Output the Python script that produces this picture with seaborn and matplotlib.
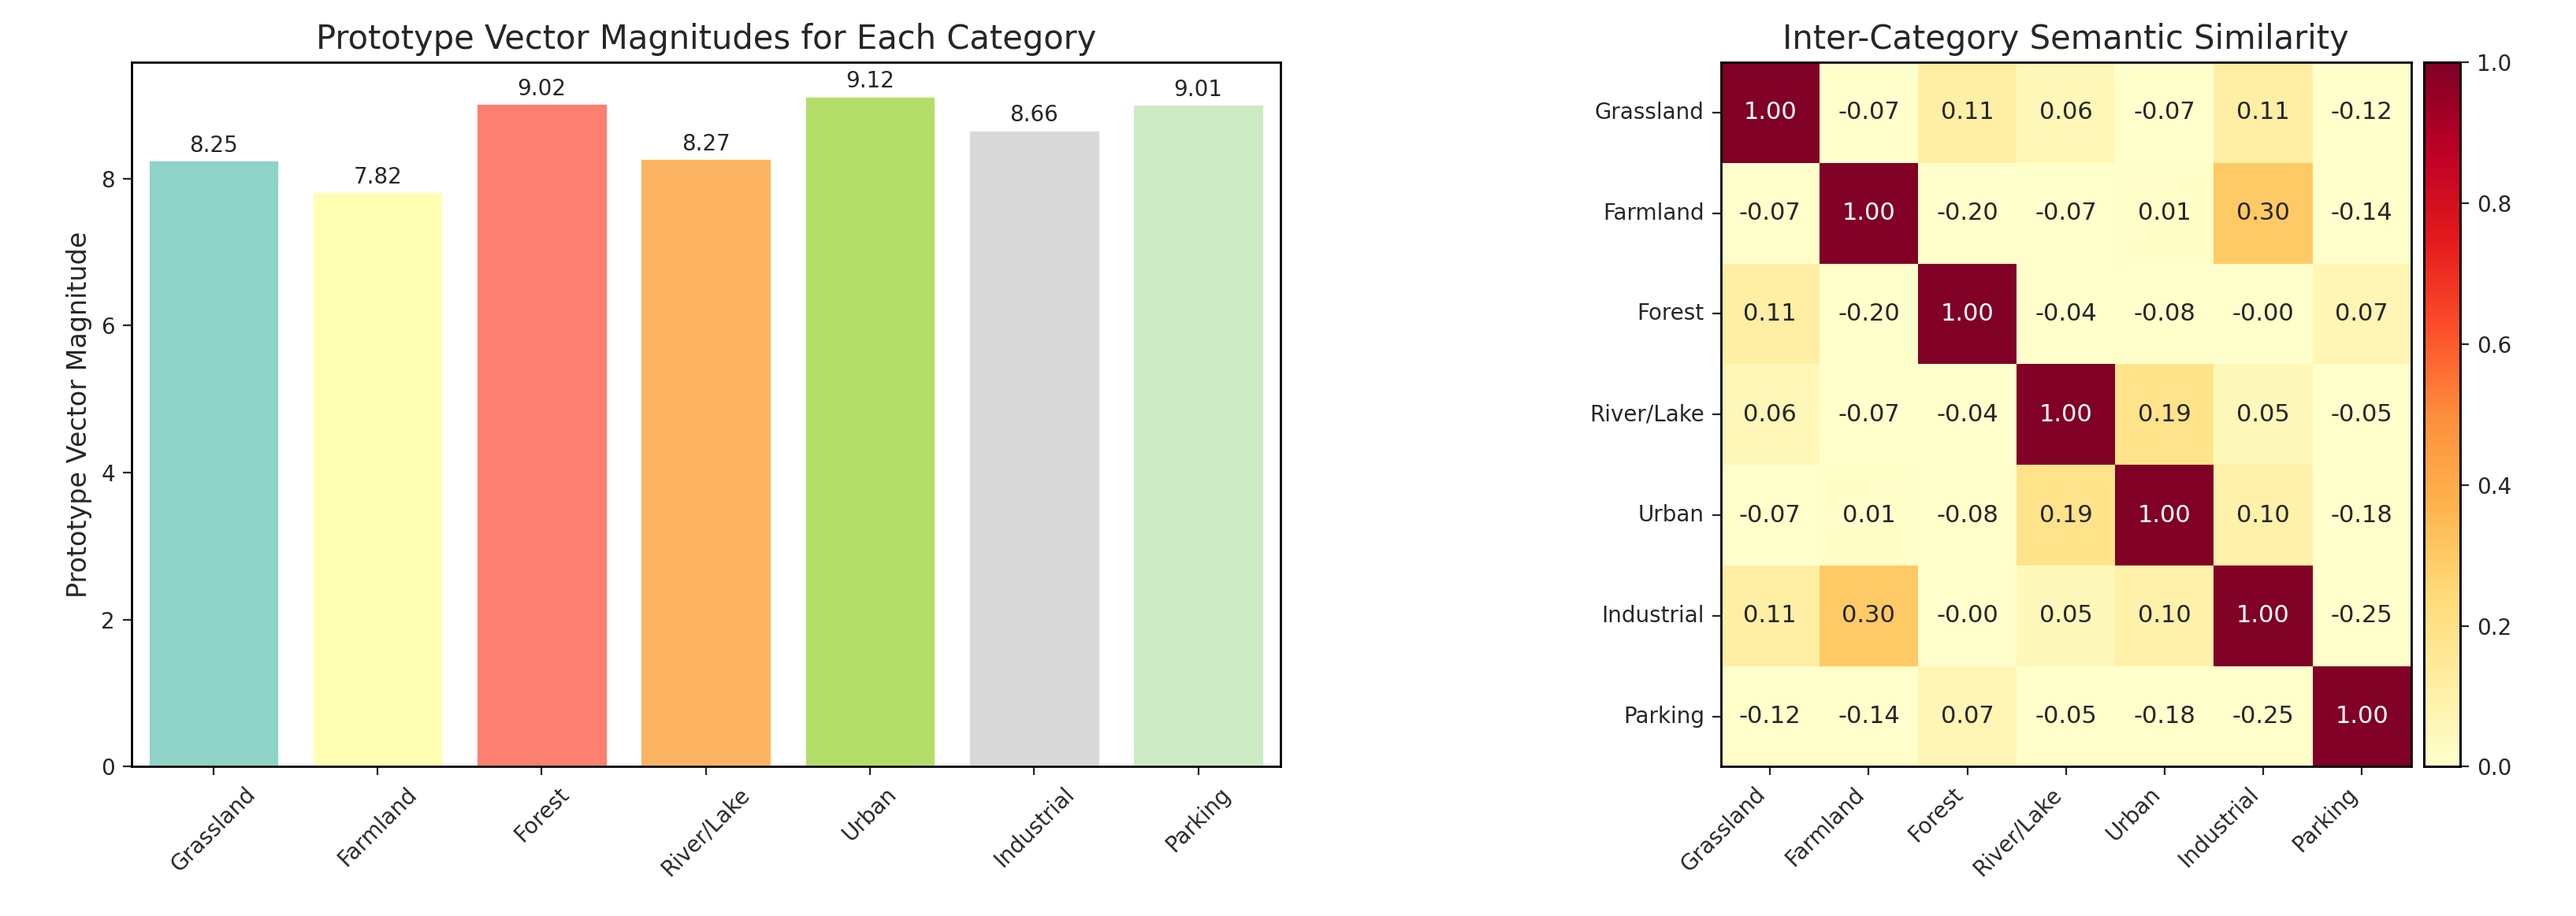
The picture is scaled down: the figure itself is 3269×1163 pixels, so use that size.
import numpy as np
import pandas as pd
import matplotlib
matplotlib.use("Agg")
import matplotlib.pyplot as plt
import seaborn as sns

categories = ["Grassland", "Farmland", "Forest", "River/Lake", "Urban", "Industrial", "Parking"]
magnitudes = [8.25, 7.82, 9.02, 8.27, 9.12, 8.66, 9.01]
bar_colors = ["#8dd3c7", "#ffffb3", "#fb8072", "#fdb462", "#b3de69", "#d9d9d9", "#ccebc5"]
similarity = [
    [1.00, -0.07, 0.11, 0.06, -0.07, 0.11, -0.12],
    [-0.07, 1.00, -0.20, -0.07, 0.01, 0.30, -0.14],
    [0.11, -0.20, 1.00, -0.04, -0.08, -0.00, 0.07],
    [0.06, -0.07, -0.04, 1.00, 0.19, 0.05, -0.05],
    [-0.07, 0.01, -0.08, 0.19, 1.00, 0.10, -0.18],
    [0.11, 0.30, -0.00, 0.05, 0.10, 1.00, -0.25],
    [-0.12, -0.14, 0.07, -0.05, -0.18, -0.25, 1.00],
]

sns.set_style("white")
plt.rcParams['font.family'] = ['DejaVu Sans']
fig = plt.figure(figsize=(16.345, 5.815), dpi=200)
ax1 = fig.add_axes([0.051, 0.163, 0.446, 0.769])
ax2 = fig.add_axes([0.668, 0.163, 0.268, 0.769])
cax = fig.add_axes([0.941, 0.163, 0.014, 0.769])

df = pd.DataFrame({"cat": categories, "mag": magnitudes})
sns.barplot(data=df, x="cat", y="mag", hue="cat", palette=bar_colors, legend=False,
            ax=ax1, width=0.8, saturation=1)
for i, v in enumerate(magnitudes):
    ax1.text(i, v + 0.05, f"{v:.2f}", ha="center", va="bottom", fontsize=10)
ax1.set_ylim(0, 9.58)
ax1.set_xlabel("")
ax1.set_ylabel("Prototype Vector Magnitude", fontsize=12)
ax1.set_title("Prototype Vector Magnitudes for Each Category", fontsize=15)
ax1.tick_params(axis="x", rotation=45, labelsize=10)
ax1.tick_params(axis="y", labelsize=10, left=True, length=4)
ax1.tick_params(axis="x", bottom=True, length=4)
for s in ax1.spines.values():
    s.set_visible(True); s.set_color("black"); s.set_linewidth(1)

sim = pd.DataFrame(similarity, index=categories, columns=categories)
sns.heatmap(sim, ax=ax2, cbar_ax=cax, cmap="YlOrRd", vmin=0, vmax=1, annot=True,
            fmt=".2f", annot_kws={"fontsize": 11})
ax2.set_title("Inter-Category Semantic Similarity", fontsize=15)
ax2.set_xticklabels(categories, rotation=45, ha="right", fontsize=10)
ax2.set_yticklabels(categories, rotation=0, fontsize=10)
ax2.tick_params(left=True, bottom=True, length=4)
for s in ax2.spines.values():
    s.set_visible(True); s.set_color("black"); s.set_linewidth(1)
cax.tick_params(labelsize=10, right=True, length=4)
for s in cax.spines.values():
    s.set_visible(True); s.set_color("black"); s.set_linewidth(1)

fig.savefig("out.png", dpi=200)
